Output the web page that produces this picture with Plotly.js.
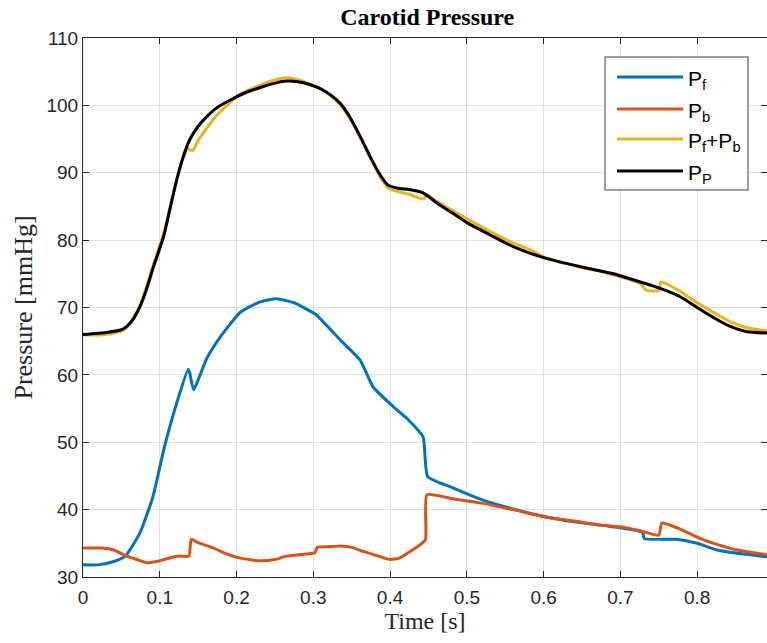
<!DOCTYPE html>
<html>
<head>
<meta charset="utf-8">
<script src="https://cdn.plot.ly/plotly-3.0.1.min.js"></script>
<style>html,body{margin:0;padding:0;background:#fff;}#chart{width:767px;height:643px;}</style>
</head>
<body>
<div id="chart"></div>
<script>
// Forward pressure P_f
const tF = [0, 0.02, 0.04, 0.055, 0.074, 0.091, 0.105, 0.122, 0.137, 0.139, 0.144, 0.161, 0.178, 0.205, 0.23, 0.252, 0.275, 0.300, 0.305, 0.335, 0.361, 0.378, 0.404, 0.425, 0.443, 0.449, 0.478, 0.521, 0.56, 0.608, 0.64, 0.674, 0.705, 0.729, 0.731, 0.773, 0.8, 0.826, 0.86, 0.891];
const Pf = [31.8, 31.8, 32.3, 33.1, 36.5, 41.9, 48.8, 55.8, 60.8, 60.3, 57.8, 62.4, 65.5, 69.3, 70.8, 71.3, 70.7, 69.2, 68.8, 65.2, 62.2, 58.2, 55.3, 53.2, 50.8, 44.9, 43.4, 41.4, 40.1, 38.8, 38.2, 37.7, 37.2, 36.6, 35.7, 35.6, 35.0, 34.0, 33.4, 33.0];

// Backward pressure P_b
const tB = [0, 0.025, 0.04, 0.053, 0.07, 0.083, 0.1, 0.115, 0.126, 0.138, 0.141, 0.15, 0.17, 0.19, 0.205, 0.231, 0.25, 0.265, 0.29, 0.302, 0.305, 0.32, 0.335, 0.35, 0.365, 0.385, 0.4, 0.412, 0.422, 0.437, 0.446, 0.448, 0.478, 0.517, 0.56, 0.608, 0.64, 0.674, 0.704, 0.728, 0.75, 0.754, 0.78, 0.804, 0.83, 0.852, 0.891];
const Pb = [34.3, 34.3, 34.0, 33.3, 32.6, 32.1, 32.4, 32.9, 33.1, 33.1, 35.6, 35.1, 34.3, 33.3, 32.8, 32.4, 32.6, 33.1, 33.4, 33.6, 34.4, 34.5, 34.6, 34.4, 33.8, 33.1, 32.6, 32.8, 33.5, 34.6, 35.5, 42.2, 41.7, 41.0, 40.0, 38.8, 38.3, 37.7, 37.4, 36.8, 36.2, 38.0, 37.0, 35.7, 34.7, 34.0, 33.3];

// Sum P_f + P_b
const tS = [0, 0.03, 0.05, 0.057, 0.074, 0.092, 0.105, 0.122, 0.13, 0.136, 0.139, 0.143, 0.15, 0.161, 0.175, 0.192, 0.205, 0.235, 0.25, 0.265, 0.28, 0.295, 0.309, 0.322, 0.335, 0.348, 0.361, 0.374, 0.387, 0.397, 0.41, 0.425, 0.444, 0.447, 0.46, 0.48, 0.5, 0.53, 0.56, 0.586, 0.6, 0.64, 0.68, 0.71, 0.728, 0.733, 0.75, 0.753, 0.775, 0.8, 0.821, 0.843, 0.865, 0.891];
const Psum = [65.9, 66.0, 66.5, 67.0, 70.2, 76.5, 81.0, 89.0, 92.0, 93.6, 93.4, 93.3, 94.8, 96.6, 98.6, 100.5, 101.7, 103.2, 103.8, 104.1, 103.8, 103.2, 102.5, 101.5, 100.1, 98.0, 95.3, 92.3, 89.4, 87.8, 87.2, 86.8, 86.1, 86.8, 85.8, 84.5, 83.2, 81.3, 79.6, 78.4, 77.5, 76.2, 75.2, 74.2, 73.4, 72.6, 72.5, 73.8, 72.6, 70.7, 69.3, 67.9, 67.0, 66.5];

// Measured pressure P_P
const tP = [0, 0.03, 0.05, 0.057, 0.065, 0.074, 0.083, 0.092, 0.105, 0.113, 0.122, 0.13, 0.139, 0.15, 0.161, 0.175, 0.192, 0.21, 0.235, 0.25, 0.265, 0.28, 0.295, 0.309, 0.322, 0.335, 0.348, 0.361, 0.374, 0.387, 0.397, 0.41, 0.425, 0.443, 0.46, 0.48, 0.5, 0.53, 0.561, 0.6, 0.65, 0.691, 0.72, 0.75, 0.778, 0.8, 0.82, 0.843, 0.865, 0.891];
const Pp = [66.0, 66.3, 66.7, 67.2, 68.2, 70.1, 72.8, 76.1, 80.5, 84.5, 88.9, 92.2, 94.9, 96.9, 98.3, 99.7, 100.8, 101.8, 102.8, 103.3, 103.6, 103.5, 103.1, 102.5, 101.6, 100.3, 98.2, 95.4, 92.4, 89.7, 88.2, 87.7, 87.5, 87.0, 85.6, 84.1, 82.6, 80.8, 79.0, 77.4, 76.0, 75.0, 74.0, 72.9, 71.6, 70.0, 68.6, 67.2, 66.4, 66.2];

const names = ['P<sub>f</sub>', 'P<sub>b</sub>', 'P<sub>f</sub>+P<sub>b</sub>', 'P<sub>P</sub>'];
const colors = ['#0072BD', '#D95319', '#EDB120', '#000000'];
const xs = [tF, tB, tS, tP];
const ys = [Pf, Pb, Psum, Pp];

const traces = xs.map((x, i) => ({
  x: x, y: ys[i], type: 'scatter', mode: 'lines', name: names[i],
  line: {color: colors[i], width: 3, shape: 'spline', smoothing: 0.5}
}));

const axisCommon = {
  showline: true, mirror: 'ticks', linecolor: '#262626', linewidth: 1,
  ticks: 'inside', ticklen: 6, tickcolor: '#262626',
  showgrid: true, gridcolor: '#e1e1e1', gridwidth: 1, zeroline: false,
  tickfont: {family: 'Liberation Sans, Arial, sans-serif', size: 19, color: '#262626'}
};

// Custom legend (box, sample lines, labels) in paper coordinates of the plot area
const legX0 = 0.7632, legX1 = 0.9722, legY0 = 0.718, legY1 = 0.9648;
const legLineX0 = 0.7807, legLineX1 = 0.8772, legTextX = 0.882;
const legRows = [0.9276, 0.8683, 0.8126, 0.7532];

const shapes = [{
  type: 'rect', xref: 'paper', yref: 'paper', x0: legX0, x1: legX1, y0: legY0, y1: legY1,
  line: {color: '#7f7f7f', width: 1.5}, fillcolor: '#ffffff', layer: 'above'
}];
const annotations = [];
legRows.forEach((yy, i) => {
  shapes.push({type: 'line', xref: 'paper', yref: 'paper', x0: legLineX0, x1: legLineX1, y0: yy, y1: yy,
    line: {color: colors[i], width: 3}, layer: 'above'});
  annotations.push({xref: 'paper', yref: 'paper', x: legTextX, y: yy, xanchor: 'left', yanchor: 'middle',
    yshift: -3, text: names[i], showarrow: false,
    font: {family: 'Liberation Sans, Arial, sans-serif', size: 21, color: '#000'}});
});

const layout = {
  width: 767, height: 643,
  margin: {l: 83, r: 0, t: 38, b: 66},
  paper_bgcolor: '#ffffff', plot_bgcolor: '#ffffff',
  title: {text: '<b>Carotid Pressure</b>', x: 0.557, xanchor: 'center', y: 0.974, yanchor: 'middle',
          font: {family: 'Liberation Serif, Times New Roman, serif', size: 24, color: '#000'}},
  xaxis: Object.assign({}, axisCommon, {
    range: [0, 0.891], tickmode: 'linear', tick0: 0, dtick: 0.1, ticklabelstandoff: 3,
    title: {text: 'Time [s]', standoff: 4, font: {family: 'Liberation Serif, Times New Roman, serif', size: 24, color: '#262626'}}
  }),
  yaxis: Object.assign({}, axisCommon, {
    range: [30, 110], tickmode: 'linear', tick0: 30, dtick: 10,
    title: {text: 'Pressure [mmHg]', standoff: 6, font: {family: 'Liberation Serif, Times New Roman, serif', size: 26, color: '#262626'}}
  }),
  showlegend: false,
  shapes: shapes,
  annotations: annotations
};

Plotly.newPlot('chart', traces, layout, {displayModeBar: false, staticPlot: true});
</script>
</body>
</html>
